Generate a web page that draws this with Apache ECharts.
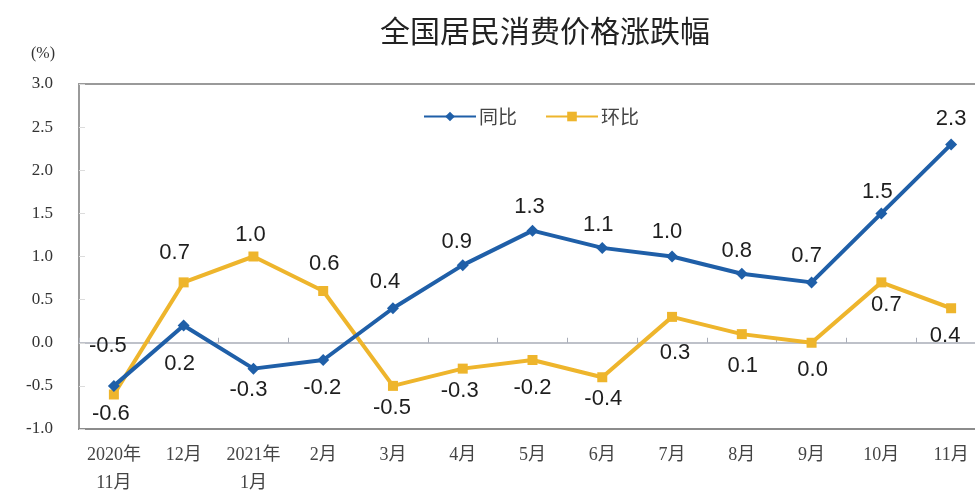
<!DOCTYPE html>
<html>
<head>
<meta charset="utf-8">
<script src="https://cdn.jsdelivr.net/npm/echarts@6/dist/echarts.min.js"></script>
<style>
html,body{margin:0;padding:0;background:#fff;}
#chart{width:975px;height:493px;}
</style>
</head>
<body>
<div id="chart"></div>
<script>
// ---- data ----
const categories = ['2020年\n11月','12月','2021年\n1月','2月','3月','4月','5月','6月','7月','8月','9月','10月','11月'];
const yoyValues = [-0.5, 0.2, -0.3, -0.2, 0.4, 0.9, 1.3, 1.1, 1.0, 0.8, 0.7, 1.5, 2.3];
const momValues = [-0.6, 0.7, 1.0, 0.6, -0.5, -0.3, -0.2, -0.4, 0.3, 0.1, 0.0, 0.7, 0.4];
const yTickLabels = ['-1.0','-0.5','0.0','0.5','1.0','1.5','2.0','2.5','3.0'];
const seriesNames = ['同比','环比'];
const titleText = '全国居民消费价格涨跌幅';
const unitText = '(%)';

// ---- label placement (style) ----
const yoyLabelOffsets = [[-6,-40],[-4,38],[-5,21],[-1,28],[-8,-26],[-6,-23],[-3,-24],[-4,-23],[-5,-25],[-5,-23],[-5,-26],[-4,-21],[0,-25]];
const momLabelOffsets = [[-3,19],[-9,-29],[-3,-22],[1,-27],[-1,22],[-3,22],[0,28],[1,22],[3,36],[1,32],[1,27],[5,23],[-6,28]];

const blue = '#1F5FA8';
const gold = '#EEB52C';
const labelFont = {fontFamily:"'Liberation Sans', Arial, sans-serif", fontSize:22, color:'#1e1e1e'};

function buildData(values, offsets){
  return values.map((v,i)=>({value:v, label:{offset:offsets[i]}}));
}

const chart = echarts.init(document.getElementById('chart'), null, {renderer:'canvas'});
chart.setOption({
  animation:false,
  backgroundColor:'#fff',
  title:[
    {text:titleText, left:540, textAlign:'center', top:11,
     textStyle:{fontFamily:"'Noto Sans CJK SC', sans-serif", fontSize:30, fontWeight:'normal', color:'#222'}},
    {text:unitText, left:26, top:41,
     textStyle:{fontFamily:"'Liberation Serif', 'Times New Roman', serif", fontSize:16, fontWeight:'normal', color:'#333'}}
  ],
  legend:{
    data:seriesNames,
    left:418, top:102,
    itemWidth:52, itemHeight:12, itemGap:28,
    textStyle:{fontFamily:"'Noto Sans CJK SC', sans-serif", fontSize:19, color:'#444', padding:[0,0,0,-2]}
  },
  grid:{left:79, top:84, width:907, height:345, show:true, borderColor:'#9a9a9a', borderWidth:2, outerBoundsMode:'none', containLabel:false},
  xAxis:[
    {type:'category', data:categories, position:'bottom',
     axisLine:{onZero:false, lineStyle:{color:'#8c8c8c', width:2}},
     axisTick:{show:false},
     axisLabel:{margin:12, lineHeight:28, fontSize:18, color:'#444',
       fontFamily:"'Liberation Serif', 'Noto Sans CJK SC', serif", interval:0}},
    {type:'category', data:categories, position:'bottom',
     axisLine:{onZero:true, lineStyle:{color:'#a9adb8', width:1.5}},
     axisTick:{show:true, inside:true, length:5, lineStyle:{color:'#a9adb8'}},
     axisLabel:{show:false}}
  ],
  yAxis:{
    type:'value', min:-1, max:3, interval:0.5,
    axisLine:{show:true, lineStyle:{color:'#9a9a9a', width:2}},
    axisTick:{show:true, inside:true, length:6, lineStyle:{color:'#dcdcdc'}},
    splitLine:{show:false},
    axisLabel:{margin:26, fontSize:17, color:'#333',
      fontFamily:"'Liberation Serif', 'Times New Roman', serif",
      formatter:(v)=>yTickLabels[Math.round((v+1)/0.5)]}
  },
  series:[
    {name:seriesNames[0], type:'line', data:buildData(yoyValues, yoyLabelOffsets),
     symbol:'diamond', symbolSize:12, lineStyle:{color:blue, width:4}, itemStyle:{color:blue},
     label:{show:true, position:'inside', formatter:(p)=>p.value.toFixed(1), ...labelFont},
     z:3},
    {name:seriesNames[1], type:'line', data:buildData(momValues, momLabelOffsets),
     symbol:'rect', symbolSize:10, lineStyle:{color:gold, width:4}, itemStyle:{color:gold},
     label:{show:true, position:'inside', formatter:(p)=>p.value.toFixed(1), ...labelFont},
     z:2}
  ]
});
</script>
</body>
</html>
